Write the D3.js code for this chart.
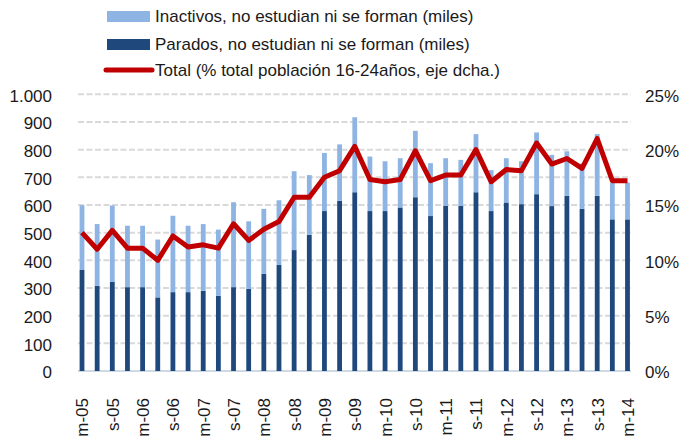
<!DOCTYPE html>
<html>
<head>
<meta charset="utf-8">
<script src="https://cdn.jsdelivr.net/npm/d3@7"></script>
<style>
  body { margin: 0; background: #fff; }
  svg text { font-family: "Liberation Sans", Arial, Helvetica, sans-serif; fill: #1a1a1a; }
</style>
</head>
<body>
<script>
// trimestres: m = marzo, j = junio, s = septiembre, d = diciembre
const quarters = [
  'm-05','j-05','s-05','d-05','m-06','j-06','s-06','d-06',
  'm-07','j-07','s-07','d-07','m-08','j-08','s-08','d-08',
  'm-09','j-09','s-09','d-09','m-10','j-10','s-10','d-10',
  'm-11','j-11','s-11','d-11','m-12','j-12','s-12','d-12',
  'm-13','j-13','s-13','d-13','m-14'
];
const parados = [
  365, 308, 322, 303, 303, 266, 285, 285, 290, 272, 303, 297, 351, 383, 437, 492,
  578, 615, 646, 578, 578, 591, 628, 560, 597, 597, 646, 578, 609, 603, 639, 596,
  633, 586, 633, 548, 548
];
const inactivos = [
  234, 223, 276, 222, 222, 209, 276, 240, 241, 239, 307, 244, 235, 234, 285, 216,
  210, 204, 271, 197, 180, 178, 240, 191, 172, 166, 210, 148, 160, 155, 223, 185,
  161, 164, 223, 133, 133
];
const totalPct = [
  12.5, 11.0, 12.7, 11.1, 11.1, 10.0, 12.2, 11.2, 11.4, 11.1, 13.3, 11.8, 12.8, 13.5, 15.7, 15.7,
  17.5, 18.1, 20.3, 17.3, 17.1, 17.3, 19.9, 17.2, 17.7, 17.7, 20.0, 17.1, 18.2, 18.1, 20.6, 18.7,
  19.2, 18.3, 21.0, 17.2, 17.2
];
const leftTicks = [0, 100, 200, 300, 400, 500, 600, 700, 800, 900, 1000];
const rightTicks = [0, 5, 10, 15, 20, 25];
const xTickLabels = quarters.filter(q => q[0] === 'm' || q[0] === 's');
const legendItems = [
  { label: 'Inactivos, no estudian ni se forman (miles)', type: 'bar', color: '#8db4e2' },
  { label: 'Parados, no estudian ni se forman (miles)', type: 'bar', color: '#1f497d' },
  { label: 'Total (% total población 16-24años, eje dcha.)', type: 'line', color: '#c00000' }
];

const W = 681, H = 438;
const svg = d3.select('body').append('svg')
  .attr('width', W)
  .attr('height', H);

const x = d3.scalePoint().domain(quarters).range([82, 627.5]);
const y = d3.scaleLinear().domain([0, 1000]).range([371, 94.3]);
const y2 = d3.scaleLinear().domain([0, 25]).range([371, 94.3]);

const es = d3.formatLocale({ decimal: ',', thousands: '.', grouping: [3], currency: ['', ''] });

// gridlines
svg.append('g')
  .selectAll('line')
  .data(leftTicks.filter(d => d > 0))
  .enter()
  .append('line')
  .attr('x1', 78)
  .attr('x2', 631)
  .attr('y1', d => y(d))
  .attr('y2', d => y(d))
  .attr('stroke', '#d9d9d9')
  .attr('stroke-width', 2)
  .attr('stroke-dasharray', '6,2.5');

// base line
svg.append('line')
  .attr('x1', 78).attr('x2', 631)
  .attr('y1', y(0)).attr('y2', y(0))
  .attr('stroke', '#d0d8e4')
  .attr('stroke-width', 2);

// stacked bars
const stackData = quarters.map((q, i) => ({ q: q, parados: parados[i], inactivos: inactivos[i] }));
const series = d3.stack().keys(['parados', 'inactivos'])(stackData);
const barColor = { parados: '#1f497d', inactivos: '#8db4e2' };
const bw = 4.8;

svg.append('g')
  .selectAll('g')
  .data(series)
  .enter()
  .append('g')
  .attr('fill', d => barColor[d.key])
  .selectAll('rect')
  .data(d => d)
  .enter()
  .append('rect')
  .attr('x', d => x(d.data.q) - bw / 2)
  .attr('width', bw)
  .attr('y', d => y(d[1]))
  .attr('height', d => y(d[0]) - y(d[1]));

// red line on the right axis
const line = d3.line()
  .x((d, i) => x(quarters[i]))
  .y(d => y2(d));

svg.append('path')
  .datum(totalPct)
  .attr('d', line)
  .attr('fill', 'none')
  .attr('stroke', '#c00000')
  .attr('stroke-width', 5)
  .attr('stroke-linejoin', 'round');

// left axis
const leftAxis = svg.append('g')
  .attr('transform', 'translate(56,0)')
  .call(d3.axisLeft(y).tickValues(leftTicks).tickSize(0).tickPadding(4).tickFormat(es.format(',')));
leftAxis.select('.domain').remove();
leftAxis.selectAll('text').style('font-size', '17px').attr('dy', '0.4em');

// right axis
const rightAxis = svg.append('g')
  .attr('transform', 'translate(641,0)')
  .call(d3.axisRight(y2).tickValues(rightTicks).tickSize(0).tickPadding(4).tickFormat(d => d + '%'));
rightAxis.select('.domain').remove();
rightAxis.selectAll('text').style('font-size', '17px').attr('dy', '0.4em');

// x axis, rotated labels
const xAxis = svg.append('g')
  .attr('transform', 'translate(0,' + 398 + ')')
  .call(d3.axisBottom(x).tickValues(xTickLabels).tickSize(0).tickPadding(0));
xAxis.select('.domain').remove();
xAxis.selectAll('text')
  .style('font-size', '17px')
  .style('text-anchor', 'end')
  .attr('transform', 'rotate(-90)')
  .attr('x', 0)
  .attr('y', 0)
  .attr('dy', '0.35em');
xAxis.selectAll('.tick')
  .attr('transform', d => 'translate(' + (x(d) + 0.5) + ',0)');

// legend
const legend = svg.append('g');
const rows = legend.selectAll('g')
  .data(legendItems)
  .enter()
  .append('g')
  .attr('transform', (d, i) => 'translate(0,' + [16.5, 44.5, 70][i] + ')');

rows.filter(d => d.type === 'bar')
  .append('rect')
  .attr('x', 107)
  .attr('y', -5.5)
  .attr('width', 43)
  .attr('height', 11)
  .attr('fill', d => d.color);

rows.filter(d => d.type === 'line')
  .append('line')
  .attr('x1', 106).attr('x2', 152)
  .attr('y1', 0).attr('y2', 0)
  .attr('stroke', d => d.color)
  .attr('stroke-width', 5)
  .attr('stroke-linecap', 'round');

rows.append('text')
  .attr('x', 155)
  .attr('y', 0)
  .attr('dy', '0.35em')
  .style('font-size', '17px')
  .text(d => d.label);
</script>
</body>
</html>
